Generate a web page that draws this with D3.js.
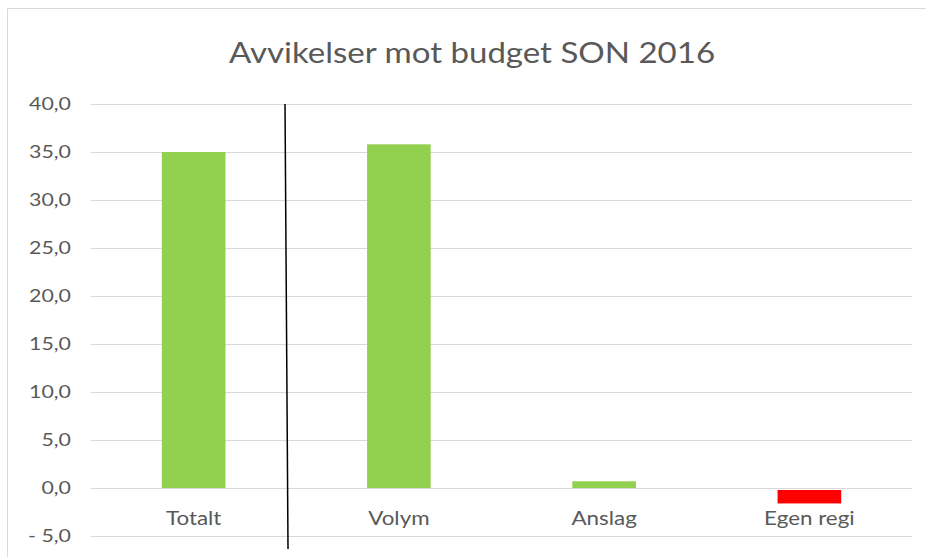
<!DOCTYPE html>
<html>
<head>
<meta charset="utf-8">
<script src="https://cdn.jsdelivr.net/npm/d3@7"></script>
<style>
  body { margin: 0; background: #fff; }
  text { font-family: Lato, "Open Sans", sans-serif; }
</style>
</head>
<body>
<div id="chart"></div>
<script>
// Chart data
var categories = ["Totalt", "Volym", "Anslag", "Egen regi"];
var values = [35.0, 35.8, 0.7, -1.4];
var yTicks = [-5, 0, 5, 10, 15, 20, 25, 30, 35, 40];
var title = "Avvikelser mot budget SON 2016";

var W = 926, H = 557;
var margin = { top: 104, right: 14, bottom: 21, left: 91 },
    width = W - margin.left - margin.right,
    height = H - margin.top - margin.bottom;

var svg = d3.select("#chart")
  .append("svg")
    .attr("width", W)
    .attr("height", H);

// outer chart border (left + top only visible)
svg.append("path")
    .attr("d", "M7.5," + H + "V8.5H" + W)
    .attr("fill", "none")
    .attr("stroke", "#d9d9d9")
    .attr("stroke-width", 1);

// title, stretched a little like the original
svg.append("text")
    .attr("transform", "translate(472,63) scale(1.18,1)")
    .attr("text-anchor", "middle")
    .style("font-size", "28px")
    .style("fill", "#595959")
    .text(title);

var g = svg.append("g")
    .attr("transform", "translate(" + margin.left + "," + margin.top + ")");

var y = d3.scaleLinear()
    .domain([-5, 40])
    .range([432, 0]);

var x = d3.scaleBand()
    .domain(categories)
    .range([0, width])
    .paddingInner(0.69)
    .paddingOuter(0.345);

// gridlines
g.append("g")
  .selectAll("line")
  .data(yTicks)
  .enter().append("line")
    .attr("x1", 0)
    .attr("x2", width)
    .attr("y1", d => Math.round(y(d)) + 0.5)
    .attr("y2", d => Math.round(y(d)) + 0.5)
    .attr("stroke", "#d9d9d9")
    .attr("stroke-width", 1);

// y axis labels
var fmt = d => (d < 0 ? "- " + d3.format(".1f")(-d) : d3.format(".1f")(d)).replace(".", ",");
var yAxis = g.append("g")
    .attr("transform", "translate(-20,0)")
    .call(d3.axisLeft(y).tickValues(yTicks).tickFormat(fmt).tickSize(0).tickPadding(0));
yAxis.select(".domain").remove();
yAxis.selectAll("text")
    .attr("transform", "scale(1.22,1)")
    .style("font-size", "17.5px")
    .style("fill", "#595959")
    .style("font-family", "Lato, 'Open Sans', sans-serif");

// bars
g.append("g")
  .selectAll("rect")
  .data(values)
  .enter().append("rect")
    .attr("x", (d, i) => x(categories[i]))
    .attr("width", x.bandwidth())
    .attr("y", d => y(Math.max(0, d)) + (d < 0 ? 2 : 0))
    .attr("height", d => Math.abs(y(d) - y(0)))
    .attr("fill", d => d < 0 ? "#ff0000" : "#92d050");

// category labels
g.append("g")
  .selectAll("text")
  .data(categories)
  .enter().append("text")
    .attr("transform", d => "translate(" + (x(d) + x.bandwidth() / 2) + "," + (y(0) + 37) + ") scale(1.12,1)")
    .attr("text-anchor", "middle")
    .style("font-size", "20px")
    .style("fill", "#595959")
    .text(d => d);

// separator line after "Totalt"
var sepX = x("Totalt") + x.bandwidth() + x.step() * 0.3;
g.append("line")
    .attr("x1", sepX - 2)
    .attr("x2", sepX + 1)
    .attr("y1", y(40))
    .attr("y2", y(-5) + 13)
    .attr("stroke", "#000")
    .attr("stroke-width", 1.5);
</script>
</body>
</html>
